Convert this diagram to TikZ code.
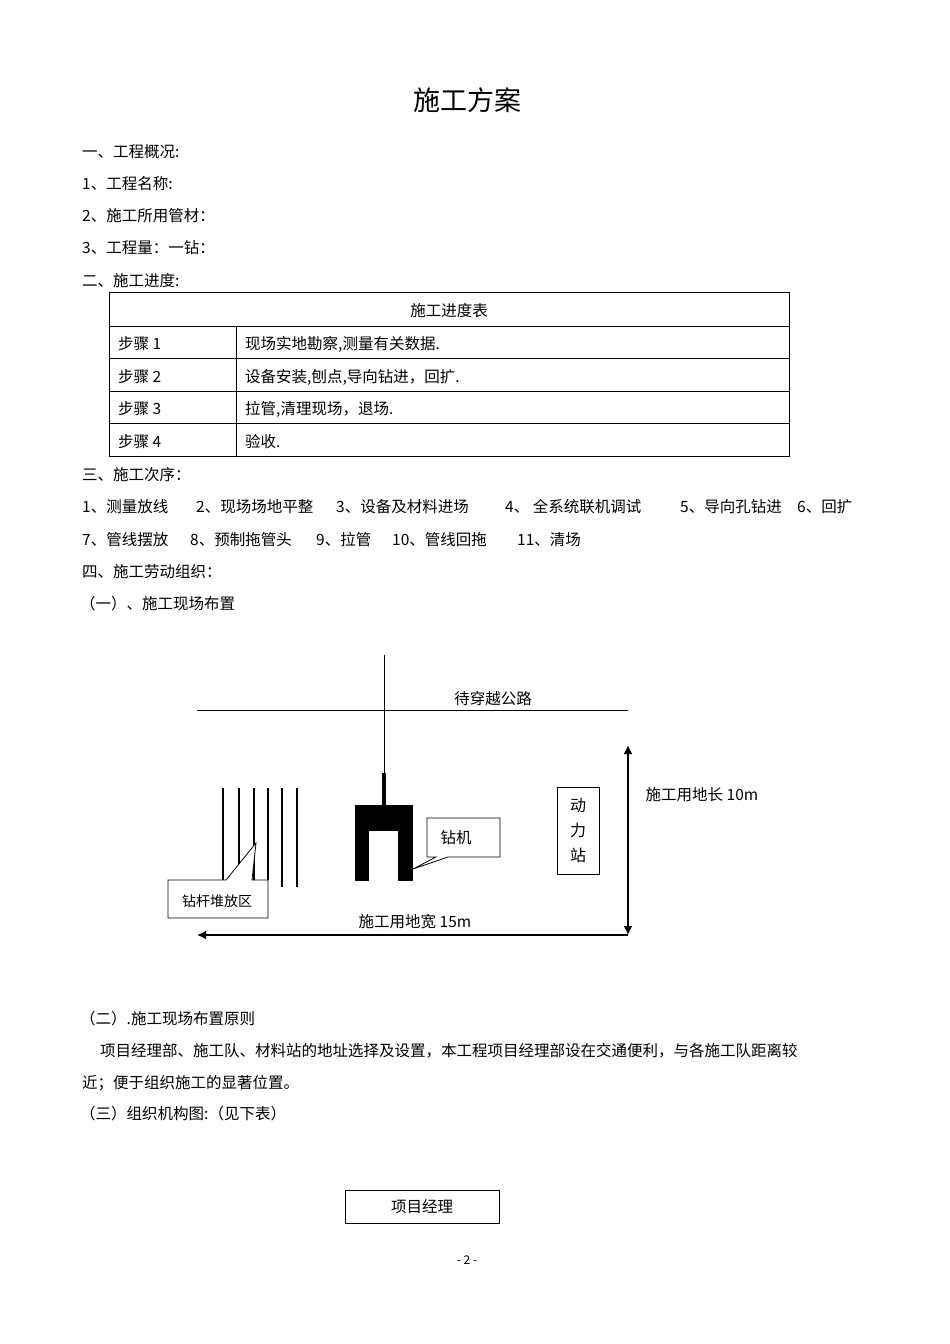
\documentclass[tikz,border=0pt]{standalone}
\usepackage{fontspec}
\usetikzlibrary{arrows.meta}
\setmainfont{Noto Sans CJK SC}
\begin{document}
\begin{tikzpicture}[x=1pt,y=-1pt,
  t/.style={anchor=west,inner sep=0pt,font=\fontsize{15.5}{17}\selectfont},
  c/.style={inner sep=0pt,font=\fontsize{15.5}{17}\selectfont},
  ln/.style={line width=0.8pt}]
\useasboundingbox[fill=white] (0,0) rectangle (950,1344);
\node[c,font=\fontsize{27}{30}\selectfont] (title) at (467,100) {施工方案};
\node[t] (l1) at (82,152) {一、工程概况:};
\node[t] (l2) at (82,184) {1、工程名称:};
\node[t] (l3) at (82,216) {2、施工所用管材：};
\node[t] (l4) at (82,248) {3、工程量：一钻：};
\node[t] (l5) at (82,281) {二、施工进度:};
% table
\draw[ln] (109,292) rectangle (789,456);
\foreach \yy in {326,358,391,423} \draw[ln] (109,\yy) -- (789,\yy);
\draw[ln] (236,326) -- (236,456);
\node[c] (th) at (449,311) {施工进度表};
\node[t] (s1) at (118,344) {步骤 1};
\node[t] (s2) at (118,377) {步骤 2};
\node[t] (s3) at (118,409) {步骤 3};
\node[t] (s4) at (118,442) {步骤 4};
\node[t] (d1) at (245,344) {现场实地勘察,测量有关数据.};
\node[t] (d2) at (245,377) {设备安装,刨点,导向钻进，回扩.};
\node[t] (d3) at (245,409) {拉管,清理现场，退场.};
\node[t] (d4) at (245,442) {验收.};
\node[t] (l6) at (82,475) {三、施工次序：};
\node[t] (q1) at (82,507) {1、测量放线};
\node[t] (q2) at (196,507) {2、现场场地平整};
\node[t] (q3) at (336,507) {3、设备及材料进场};
\node[t] (q4) at (505,507) {4、 全系统联机调试};
\node[t] (q5) at (680,507) {5、导向孔钻进};
\node[t] (q6) at (797,507) {6、回扩};
\node[t] (q7) at (82,540) {7、管线摆放};
\node[t] (q8) at (190,540) {8、预制拖管头};
\node[t] (q9) at (316,540) {9、拉管};
\node[t] (q10) at (392,540) {10、管线回拖};
\node[t] (q11) at (517,540) {11、清场};
\node[t] (l7) at (82,572) {四、施工劳动组织：};
\node[t] (l8) at (80,604) {（一）、施工现场布置};
% site diagram
\coordinate (rw) at (197,710); \coordinate (re) at (628,710);
\draw[ln] (rw) -- (re);
\node[c] (road) at (493,699) {待穿越公路};
\coordinate (vt) at (384,655); \coordinate (vb) at (384,773);
\draw[ln] (vt) -- (vb);
\fill (382,773) rectangle (386,806);
\fill (355,805) rectangle (413,881);
\fill[white] (369,831) rectangle (398,881);
\foreach \xx/\yb in {223/880,239/880,254/880,268/880,282/887,297/887}
  \draw[line width=2.2pt] (\xx,788) -- (\xx,\yb);
% callout 钻杆堆放区
\draw[fill=white,ln] (168,880) -- (226,880) -- (256,843) -- (252,880) -- (268,880) -- (268,918) -- (168,918) -- cycle;
\node[c,font=\fontsize{14}{16}\selectfont] (rod) at (217,901) {钻杆堆放区};
% callout 钻机
\draw[fill=white,ln] (427,818) -- (500,818) -- (500,857) -- (448,857) -- (413,869) -- (436,857) -- (427,857) -- cycle;
\node[c] (drill) at (456,838) {钻机};
\node[draw,ln,minimum width=42pt,minimum height=87pt,inner sep=0pt] (pw) at (578,831) {};
\node[c,align=center,font=\fontsize{16}{25}\selectfont] (pwt) at (578,831) {动\\力\\站};
\coordinate (at) at (628,745); \coordinate (ab) at (628,935);
\coordinate (al) at (197,935);
\draw[line width=2.2pt,{Latex[length=9pt,width=9pt]}-{Latex[length=9pt,width=9pt]}] (at) -- (ab);
\draw[line width=2.2pt,{Latex[length=9pt,width=9pt]}-] (al) -- (ab);
\node[c] (len) at (702,795) {施工用地长 10m};
\node[c] (wid) at (415,922) {施工用地宽 15m};
% lower text
\node[t] (m1) at (80,1019) {（二）.施工现场布置原则};
\node[t] (m2) at (100,1051) {项目经理部、施工队、材料站的地址选择及设置，本工程项目经理部设在交通便利，与各施工队距离较};
\node[t] (m3) at (82,1083) {近；便于组织施工的显著位置。};
\node[t] (m4) at (80,1114) {（三）组织机构图:（见下表）};
\node[draw,ln,minimum width=154pt,minimum height=33pt,c] (pm) at (422,1207) {项目经理};
\node[c,font=\fontsize{12}{14}\selectfont] (pg) at (467,1260) {- 2 -};
\end{tikzpicture}
\end{document}
